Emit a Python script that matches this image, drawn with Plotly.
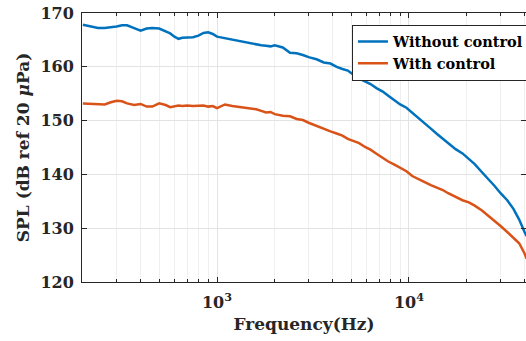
import numpy as np
import plotly.graph_objects as go

freq = [200, 220, 240, 260, 280, 300, 320, 340, 370, 400, 430, 460, 500, 540, 570, 600, 630, 660,
        700, 750, 800, 850, 900, 950, 1000, 1100, 1200, 1300, 1400, 1500, 1600, 1700, 1800, 1900,
        2000, 2200, 2400, 2600, 2800, 3000, 3300, 3600, 3900, 4200, 4500, 4800, 5100, 5500, 5900,
        6300, 6800, 7300, 7800, 8400, 9000, 9700, 10400, 11200, 12000, 13000, 14000, 15000, 16000,
        17500, 19000, 20500, 22000, 24000, 26000, 28000, 30000, 32500, 35000, 37500, 40000, 41000]

without_control = [167.8, 167.5, 167.2, 167.2, 167.3, 167.5, 167.7, 167.7, 167.2, 166.7, 167.1, 167.2,
                   167.1, 166.5, 166.2, 165.6, 165.2, 165.4, 165.5, 165.5, 165.8, 166.3, 166.4, 166.1,
                   165.6, 165.3, 165.0, 164.8, 164.6, 164.3, 164.2, 164.0, 163.9, 163.8, 164.0, 163.6,
                   162.6, 162.5, 162.2, 161.8, 161.4, 160.8, 160.6, 160.0, 159.6, 159.3, 158.6, 157.8,
                   157.3, 156.8, 156.0, 155.4, 154.6, 153.8, 153.0, 152.4, 151.5, 150.5, 149.7, 148.5,
                   147.5, 146.6, 145.7, 144.7, 143.9, 142.9, 141.9, 140.4, 139.1, 137.8, 136.5, 135.2,
                   133.6, 131.6, 129.3, 128.5]

with_control = [153.2, 153.1, 153.0, 153.0, 153.4, 153.7, 153.6, 153.2, 152.9, 153.1, 152.6, 152.6,
                153.2, 152.9, 152.5, 152.6, 152.8, 152.7, 152.8, 152.7, 152.8, 152.8, 152.6, 152.7,
                152.3, 153.0, 152.7, 152.5, 152.3, 152.2, 152.1, 151.8, 151.5, 151.6, 151.2, 150.9,
                150.8, 150.3, 150.1, 149.6, 149.0, 148.4, 148.0, 147.6, 147.2, 146.6, 146.2, 145.8,
                145.1, 144.6, 143.8, 143.0, 142.4, 141.8, 141.2, 140.6, 139.7, 139.2, 138.6, 138.0,
                137.6, 137.1, 136.5, 135.8, 135.2, 134.8, 134.2, 133.3, 132.3, 131.3, 130.4, 129.3,
                128.2, 127.2, 125.3, 124.3]

y_ticks = [120, 130, 140, 150, 160, 170]
x_major = [1000, 10000]
x_major_text = ["10<sup>3</sup>", "10<sup>4</sup>"]
x_minor = [200, 300, 400, 500, 600, 700, 800, 900, 2000, 3000, 4000, 5000, 6000, 7000, 8000, 9000,
           20000, 30000, 40000]

FONT = "DejaVu Serif"
AX = "#262626"

fig = go.Figure()
fig.add_trace(go.Scatter(x=freq, y=without_control, mode="lines", name="Without control",
                         line=dict(color="#0072BD", width=2.5)))
fig.add_trace(go.Scatter(x=freq, y=with_control, mode="lines", name="With control",
                         line=dict(color="#D95319", width=2.5)))

fig.update_layout(
    width=526, height=341,
    margin=dict(l=82, r=0, t=13, b=59, autoexpand=False),
    plot_bgcolor="white", paper_bgcolor="white",
    font=dict(family=FONT, size=16, color=AX),
    legend=dict(x=0.608, y=0.957, xanchor="left", yanchor="top",
                bgcolor="white", bordercolor="#262626", borderwidth=1,
                font=dict(family=FONT, size=14.5, color="black", weight="bold"),
                tracegroupgap=0),
    showlegend=True,
)

fig.update_xaxes(
    type="log", range=[np.log10(198), np.log10(40700)],
    tickmode="array", tickvals=x_major, ticktext=x_major_text,
    ticks="inside", ticklen=5, tickcolor=AX, tickwidth=1,
    showline=True, linecolor=AX, linewidth=1, mirror="ticks",
    showgrid=True, gridcolor="#e3e3e3", gridwidth=1,
    minor=dict(tickmode="array", tickvals=x_minor, ticks="inside", ticklen=3,
               tickcolor=AX, showgrid=True, gridcolor="#efefef", gridwidth=1),
    tickfont=dict(family=FONT, size=16, color=AX, weight="bold"),
    ticklabelstandoff=6,
    title=dict(text="Frequency(Hz)", font=dict(family=FONT, size=17, color=AX, weight="bold"),
               standoff=6),
    zeroline=False,
)
fig.update_yaxes(
    range=[120, 170], tickmode="array", tickvals=y_ticks,
    ticks="inside", ticklen=5, tickcolor=AX, tickwidth=1,
    showline=True, linecolor=AX, linewidth=1, mirror="ticks",
    showgrid=True, gridcolor="#e3e3e3", gridwidth=1,
    tickfont=dict(family=FONT, size=16, color=AX, weight="bold"),
    ticklabelstandoff=4,
    title=dict(text="SPL (dB ref 20 <i>μ</i>Pa)", font=dict(family=FONT, size=17, color=AX, weight="bold"),
               standoff=6),
    zeroline=False,
)

fig.write_html("out.html")
